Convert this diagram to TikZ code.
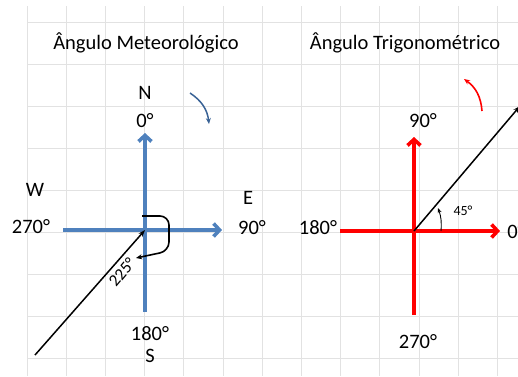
\documentclass[tikz,border=0pt]{standalone}
\usepackage{fontspec}
\setmainfont{Carlito}
\usetikzlibrary{arrows.meta}
\definecolor{MetBlue}{HTML}{4F81BD}
\definecolor{MetDark}{HTML}{3A6396}
\definecolor{TrigRed}{HTML}{FF0000}
\definecolor{GridGray}{HTML}{E2E2E2}

\begin{document}
\begin{tikzpicture}[
    x=1pt, y=-1pt,
    gridline/.style={
      draw=GridGray,
      line width=1pt
    },
    axisline/.style={
      line width=3.6pt,
      -{Straight Barb[length=6pt,width=13pt]}
    },
    vec/.style={
      -{Stealth[length=7pt,width=5pt]},
      line width=1.5pt,
      color=black
    },
    turn/.style={
      -{Stealth[length=6pt,width=5pt]},
      line width=1.6pt
    },
    lbl/.style={
      font=\fontsize{20.5}{23}\selectfont,
      inner sep=0pt
    },
    small/.style={
      font=\fontsize{14}{16}\selectfont,
      inner sep=0pt
    }
  ]

  \useasboundingbox (0,0) rectangle (518,376);
  \clip (0,0) rectangle (518,376);

  % Grid
  \foreach \i in {0,...,12}
    \draw[gridline] (27+39.2*\i,6) -- (27+39.2*\i,376);
  \foreach \j in {0,...,8}
    \draw[gridline] (27,22+42*\j) -- (518,22+42*\j);

  % Meteorological angle
  \node[lbl] (mtitle) at (146,43) {Ângulo Meteorológico};
  \coordinate (mO) at (145,230);
  \coordinate (mW) at (63,230);
  \coordinate (mE) at (222,230);
  \coordinate (mS) at (145,312);
  \coordinate (mN) at (145,133);
  \draw[axisline,MetBlue] (mW) -- (mE);
  \draw[axisline,MetBlue] (mS) -- (mN);

  \node[lbl] (nN) at (145,93) {N};
  \node[lbl] (n0) at (145,121) {0°};
  \node[lbl] (nW) at (35,190) {W};
  \node[lbl] (n270) at (31,227) {270°};
  \node[lbl] (nE) at (248,198) {E};
  \node[lbl] (n90) at (252,228) {90°};
  \node[lbl] (n180) at (150,334) {180°};
  \node[lbl] (nS) at (150,356) {S};

  % Wind direction
  \coordinate (mTail) at (35,355);
  \draw[vec] (mTail) -- (mO);
  \coordinate (loopA) at (142,216);
  \coordinate (loopB) at (136,258);
  \draw[turn,rounded corners=9pt] (loopA) -- (169,216) -- (169,251) -- (loopB);
  \node[small,font=\fontsize{17}{19}\selectfont,rotate=50] (n225) at (122,272) {225°};

  % Clockwise sense
  \coordinate (cwA) at (190,93);
  \coordinate (cwB) at (209,124);
  \draw[turn,MetDark,line width=1.5pt] (cwA) to[bend left=25] (cwB);

  % Trigonometric angle
  \node[lbl] (ttitle) at (405,43) {Ângulo Trigonométrico};
  \coordinate (tO) at (414,231);
  \coordinate (tW) at (340,231);
  \coordinate (tE) at (500,231);
  \coordinate (tS) at (414,315);
  \coordinate (tN) at (414,137);
  \draw[axisline,TrigRed] (tW) -- (tE);
  \draw[axisline,TrigRed] (tS) -- (tN);

  \node[lbl] (t90) at (423,121) {90°};
  \node[lbl] (t180) at (318,228) {180°};
  \node[lbl] (t0) at (516,232) {0°};
  \node[lbl] (t270) at (418,342) {270°};

  % Vector at 45 degrees
  \coordinate (tTip) at (520,106);
  \draw[vec] (tO) -- (tTip);
  \coordinate (arcA) at (441,231);
  \coordinate (arcB) at (438,208);
  \draw[-{Stealth[length=5pt,width=4pt]},line width=0.9pt] (arcA) to[bend right=12] (arcB);
  \node[small] (t45) at (463,211) {45°};

  % Counter-clockwise sense
  \coordinate (ccwA) at (482,111);
  \coordinate (ccwB) at (464,79);
  \draw[turn,TrigRed] (ccwA) to[bend right=25] (ccwB);
\end{tikzpicture}
\end{document}
